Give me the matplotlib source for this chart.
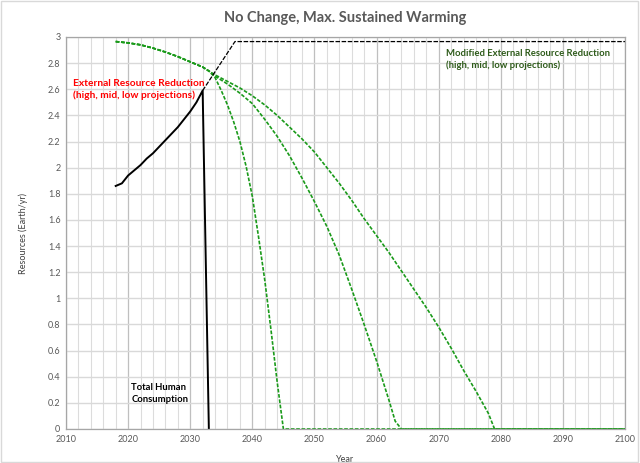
import matplotlib
matplotlib.use("Agg")
import matplotlib.pyplot as plt
from matplotlib.patches import Rectangle
from matplotlib.ticker import MultipleLocator, FuncFormatter

plt.rcParams['font.family'] = ['Lato', 'DejaVu Sans']

# Total human consumption (solid black)
cons_years = [2018, 2019, 2020, 2021, 2022, 2023, 2024, 2025, 2026, 2027,
              2028, 2029, 2030, 2031, 2032, 2033]
cons_vals = [1.86, 1.88, 1.94, 1.98, 2.02, 2.07, 2.11, 2.16, 2.21, 2.26,
             2.31, 2.37, 2.43, 2.50, 2.59, 0.0]

# Consumption demand continuation (dashed black)
demand_years = [2032, 2037.2, 2100]
demand_vals = [2.59, 2.965, 2.965]

# Shared early part of the resource reduction curves
common_years = [2018, 2020, 2022, 2024, 2026, 2028, 2030, 2032, 2033]
common_vals = [2.965, 2.955, 2.94, 2.915, 2.885, 2.85, 2.81, 2.77, 2.74]

# High projection
high_years = [2034, 2035, 2036, 2037, 2038, 2039, 2040, 2041, 2042, 2043,
              2044, 2045, 2100]
high_vals = [2.69, 2.59, 2.48, 2.35, 2.20, 2.01, 1.78, 1.47, 1.14, 0.76,
             0.36, 0.0, 0.0]

# Mid projection
mid_years = [2034, 2036, 2038, 2040, 2042, 2044, 2046, 2048, 2050, 2052,
             2054, 2056, 2058, 2060, 2061, 2062, 2063, 2064, 2100]
mid_vals = [2.70, 2.64, 2.57, 2.49, 2.37, 2.24, 2.09, 1.92, 1.74, 1.55,
            1.33, 1.07, 0.80, 0.52, 0.37, 0.22, 0.06, 0.0, 0.0]

# Low projection
low_years = [2034, 2036, 2038, 2040, 2042, 2044, 2046, 2048, 2050, 2052,
             2054, 2056, 2058, 2060, 2062, 2064, 2066, 2068, 2070, 2072,
             2074, 2076, 2078, 2079, 2100]
low_vals = [2.71, 2.66, 2.61, 2.55, 2.48, 2.40, 2.31, 2.22, 2.12, 2.00,
            1.88, 1.75, 1.61, 1.48, 1.35, 1.21, 1.07, 0.93, 0.78, 0.62,
            0.45, 0.29, 0.12, 0.0, 0.0]

fig = plt.figure(figsize=(6.4, 4.63), dpi=100)
ax = fig.add_axes([66/640, 1-429/463, (625-66)/640, (429-37)/463])

# Outer chart border
fig.patches.append(Rectangle((0.002, 0.003), 0.995, 0.994, transform=fig.transFigure,
                             fill=False, edgecolor='#d9d9d9', linewidth=1.0))

ax.set_xlim(2010, 2100)
ax.set_ylim(0, 3)
ax.xaxis.set_major_locator(MultipleLocator(10))
ax.xaxis.set_minor_locator(MultipleLocator(2))
ax.yaxis.set_major_locator(MultipleLocator(0.2))
ax.grid(which='minor', axis='x', color='#dcdcdc', linewidth=0.8)
ax.grid(which='major', axis='x', color='#bfbfbf', linewidth=0.9)
ax.grid(which='major', axis='y', color='#d9d9d9', linewidth=1.0)
ax.set_axisbelow(True)
ax.tick_params(which='both', length=0, labelsize=6.5, colors='#595959', pad=4)

def fmt(v, pos):
    s = ('%.1f' % v)
    if s.endswith('.0'):
        s = s[:-2]
    return s
ax.yaxis.set_major_formatter(FuncFormatter(fmt))

for sp in ax.spines.values():
    sp.set_color('#a6a6a6')
    sp.set_linewidth(0.9)

green = '#1a9a1a'
gdash = (0, (2.2, 1.0))
for yrs, vals in [(high_years, high_vals), (mid_years, mid_vals), (low_years, low_vals)]:
    ax.plot(common_years + yrs, common_vals + vals, color=green, linewidth=1.2,
            linestyle=gdash, clip_on=False)

ax.plot(demand_years, demand_vals, color='black', linewidth=0.9, linestyle=(0, (3.6, 1.3)))
ax.plot(cons_years, cons_vals, color='black', linewidth=1.4, solid_joinstyle='round')

fig.text(345/640, 1-18/463, 'No Change, Max. Sustained Warming', ha='center', va='center',
         fontsize=10.5, fontweight='bold', color='#595959')
ax.set_xlabel('Year', fontsize=6.5, color='#404040', labelpad=8)
ax.set_ylabel('Resources (Earth/yr)', fontsize=6.5, color='#404040', labelpad=14)

ax.text(2011.1, 2.6, 'External Resource Reduction\n(high, mid, low projections)',
        color='#ff0000', fontsize=7.3, fontweight='bold', ha='left', va='center',
        linespacing=1.35)
ax.text(2071.2, 2.83, 'Modified External Resource Reduction\n(high, mid, low projections)',
        color='#2e5b1a', fontsize=6.8, fontweight='bold', ha='left', va='center',
        linespacing=1.35)
ax.text(2020.5, 0.27, 'Total Human\nConsumption', color='black', fontsize=6.8,
        fontweight='bold', ha='left', va='center', linespacing=1.35)

fig.savefig('out.png', dpi=100)
